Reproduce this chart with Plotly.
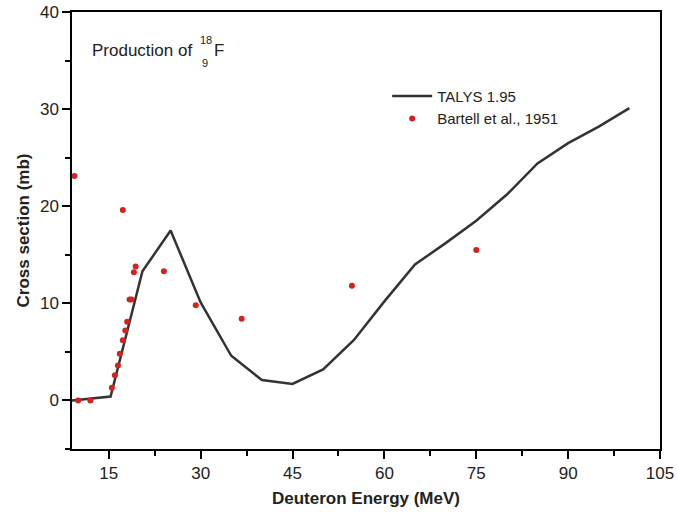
import plotly.graph_objects as go

# TALYS 1.95 calculation
talys_e = [9, 15.3, 20.5, 25.1, 30, 35, 40, 45, 50, 55, 60, 65, 70, 75, 80, 85, 90, 95, 100]
talys_xs = [0.0, 0.4, 13.3, 17.5, 10.1, 4.6, 2.1, 1.7, 3.2, 6.2, 10.2, 14.0, 16.2, 18.5, 21.2, 24.4, 26.5, 28.2, 30.1]

# Bartell et al., 1951 experimental points
exp_e = [9.4, 10.0, 12.0, 15.5, 16.0, 16.5, 16.8, 17.3, 17.7, 18.0, 18.4, 18.7, 19.1, 19.4, 17.3, 24.0, 29.2, 36.7, 54.7, 75.0]
exp_xs = [23.1, 0.0, 0.0, 1.3, 2.6, 3.6, 4.8, 6.2, 7.2, 8.1, 10.4, 10.4, 13.2, 13.8, 19.6, 13.3, 9.8, 8.4, 11.8, 15.5]

FONT = 'Liberation Sans, Arial'

fig = go.Figure()

fig.add_trace(go.Scatter(
    x=talys_e, y=talys_xs, mode='lines', name='TALYS 1.95',
    line=dict(color='#333333', width=2.5)
))

fig.add_trace(go.Scatter(
    x=exp_e, y=exp_xs, mode='markers', name='Bartell et al., 1951',
    marker=dict(color='#d42222', size=6), cliponaxis=False
))

axis_common = dict(
    showline=True, linecolor='black', linewidth=1.5, mirror=True,
    ticks='outside', ticklen=8, tickwidth=1.5, tickcolor='black',
    showgrid=False, zeroline=False, automargin=False, ticklabeloverflow='allow',
    tickfont=dict(family=FONT, size=17, color='#222'),
)

fig.update_xaxes(
    range=[9, 105], tickvals=[15, 30, 45, 60, 75, 90, 105],
    minor=dict(ticks='outside', ticklen=5, tickwidth=1.5, tickcolor='black', dtick=7.5, tick0=7.5),
    title=dict(text='<b>Deuteron Energy (MeV)</b>', font=dict(family=FONT, size=17, color='#222'), standoff=10),
    **axis_common
)
fig.update_yaxes(
    range=[-5, 40], tickvals=[0, 10, 20, 30, 40],
    minor=dict(ticks='outside', ticklen=5, tickwidth=1.5, tickcolor='black', dtick=5, tick0=-5),
    title=dict(text='<b>Cross section (mb)</b>', font=dict(family=FONT, size=17, color='#222'), standoff=6),
    **axis_common
)

fig.add_annotation(x=0.031, y=0.913, xref='paper', yref='paper', xanchor='left', yanchor='middle',
                   text='Production of', showarrow=False,
                   font=dict(family=FONT, size=17, color='#222'))
fig.add_annotation(x=0.215, y=0.935, xref='paper', yref='paper', xanchor='left', yanchor='middle',
                   text='18', showarrow=False,
                   font=dict(family=FONT, size=11, color='#222'))
fig.add_annotation(x=0.217, y=0.884, xref='paper', yref='paper', xanchor='left', yanchor='middle',
                   text='9', showarrow=False,
                   font=dict(family=FONT, size=11, color='#222'))
fig.add_annotation(x=0.238, y=0.913, xref='paper', yref='paper', xanchor='left', yanchor='middle',
                   text='F', showarrow=False,
                   font=dict(family=FONT, size=17, color='#222'))

fig.update_layout(
    width=678, height=519,
    margin=dict(l=72, r=18, t=12, b=70),
    plot_bgcolor='white', paper_bgcolor='white',
    font=dict(family=FONT, color='#222'),
    legend=dict(x=0.536, y=0.845, xanchor='left', yanchor='top', bgcolor='rgba(0,0,0,0)',
                font=dict(size=15), tracegroupgap=0, itemwidth=40),
    showlegend=True,
)

# drop the default body margin so the figure sits at the window's corner
fig.write_html("out.html", config={'displayModeBar': False},
               post_script="document.body.style.margin='0';")
